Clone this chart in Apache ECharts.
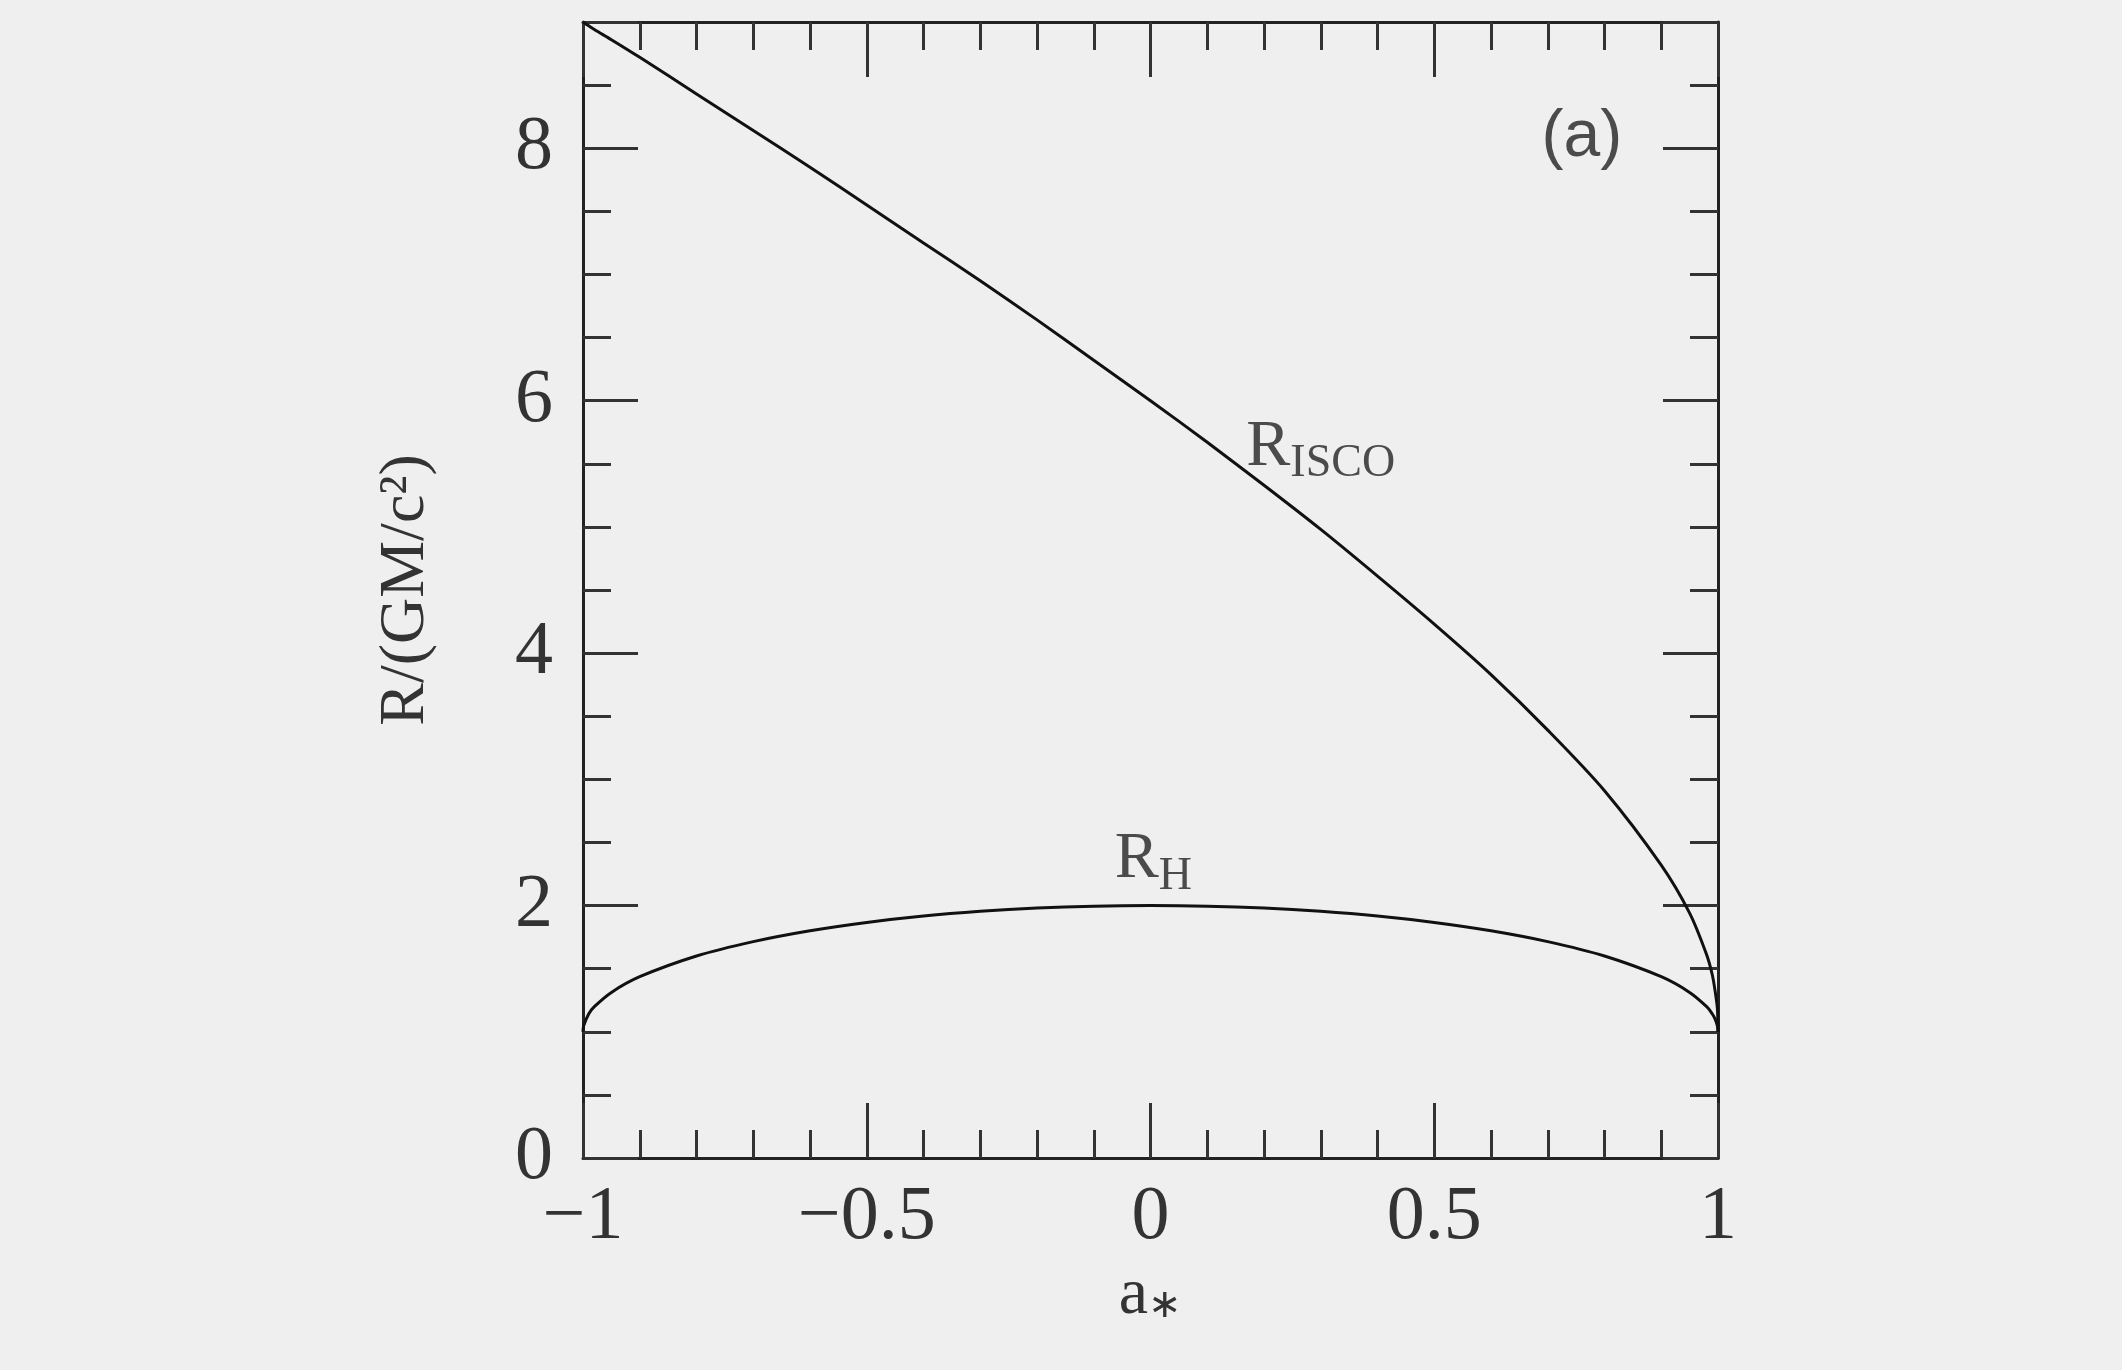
<!DOCTYPE html>
<html><head><meta charset="utf-8">
<script src="https://cdn.jsdelivr.net/npm/echarts@6/dist/echarts.min.js"></script>
<style>html,body{margin:0;background:#efefef}#c{width:2122px;height:1370px}</style>
</head><body><div id="c"></div>
<script>
const spin = [-1,-0.999,-0.99,-0.98,-0.95,-0.9,-0.8,-0.7,-0.6,-0.5,-0.4,-0.3,-0.2,-0.1,0,0.1,0.2,0.3,0.4,0.5,0.6,0.7,0.8,0.9,0.95,0.98,0.99,0.995,0.999,1];
const rIsco = [9,8.997,8.97,8.94,8.86,8.72,8.43,8.14,7.85,7.55,7.25,6.95,6.64,6.32,6.0,5.67,5.33,4.98,4.61,4.23,3.83,3.39,2.91,2.32,1.94,1.61,1.45,1.32,1.18,1.0];
const rH = [1,1.045,1.141,1.199,1.312,1.436,1.6,1.714,1.8,1.866,1.917,1.954,1.980,1.995,2,1.995,1.980,1.954,1.917,1.866,1.8,1.714,1.6,1.436,1.312,1.199,1.141,1.10,1.045,1];
const serif = 'Liberation Serif';
const ax = {show:true,onZero:false,lineStyle:{color:'#222',width:3}};
const chart = echarts.init(document.getElementById('c'));
const xBase = {type:'value',min:-1,max:1,interval:0.5,axisLine:ax,
  axisTick:{inside:true,length:55,lineStyle:{color:'#333',width:3}},
  minorTick:{show:true,splitNumber:5,length:28,lineStyle:{color:'#333',width:3}},
  splitLine:{show:false}};
const yBase = {type:'value',min:0,max:9,interval:2,axisLine:ax,
  axisTick:{inside:true,length:55,lineStyle:{color:'#333',width:3}},
  minorTick:{show:true,splitNumber:4,length:28,lineStyle:{color:'#333',width:3}},
  splitLine:{show:false}};
const sub = {a:{fontFamily:serif,fontSize:66,color:'#222'},b:{fontFamily:serif,fontSize:46,color:'#222',padding:[34,0,0,0]}};
chart.setOption({
  backgroundColor:'#efefef',animation:false,
  grid:{left:583,right:404,top:22,bottom:212},
  xAxis:[Object.assign({},xBase,{position:'bottom',name:'{a|a}{b|\u2217}',nameLocation:'middle',nameGap:105,
    nameTextStyle:{rich:{a:{fontFamily:serif,fontSize:66,color:'#333'},b:{fontFamily:serif,fontSize:40,color:'#333',padding:[20,0,0,0]}}},
    axisLabel:{fontFamily:serif,fontSize:76,color:'#333',margin:22,
      formatter:v=>v<0?'\u2212'+Math.abs(v):String(v)}}),
    Object.assign({},xBase,{position:'top',axisLabel:{show:false}})],
  yAxis:[Object.assign({},yBase,{position:'left',name:'R/(GM/c\u00b2)',nameLocation:'middle',nameGap:145,
    nameTextStyle:{fontFamily:serif,fontSize:64,color:'#333'},
    axisLabel:{fontFamily:serif,fontSize:76,color:'#333',margin:30,showMaxLabel:false,formatter:v=>v%2===0?String(v):''}}),
    Object.assign({},yBase,{position:'right',axisLabel:{show:false}})],
  series:[
    {type:'line',data:spin.map((a,i)=>[a,rIsco[i]]),showSymbol:false,lineStyle:{color:'#111',width:3},smooth:0.3},
    {type:'line',data:spin.map((a,i)=>[a,rH[i]]),showSymbol:false,lineStyle:{color:'#111',width:3},smooth:0.3},
    {type:'scatter',symbolSize:0,silent:true,data:[
      {value:[0.30,5.63],label:{show:true,formatter:'{a|R}{b|ISCO}',rich:sub}},
      {value:[0.005,2.36],label:{show:true,formatter:'{a|R}{b|H}',rich:sub}},
      {value:[0.76,8.08],label:{show:true,formatter:'(a)',fontFamily:'Liberation Sans',fontSize:66,color:'#222'}}
    ],label:{position:'inside'}}
  ]
});
</script></body></html>
